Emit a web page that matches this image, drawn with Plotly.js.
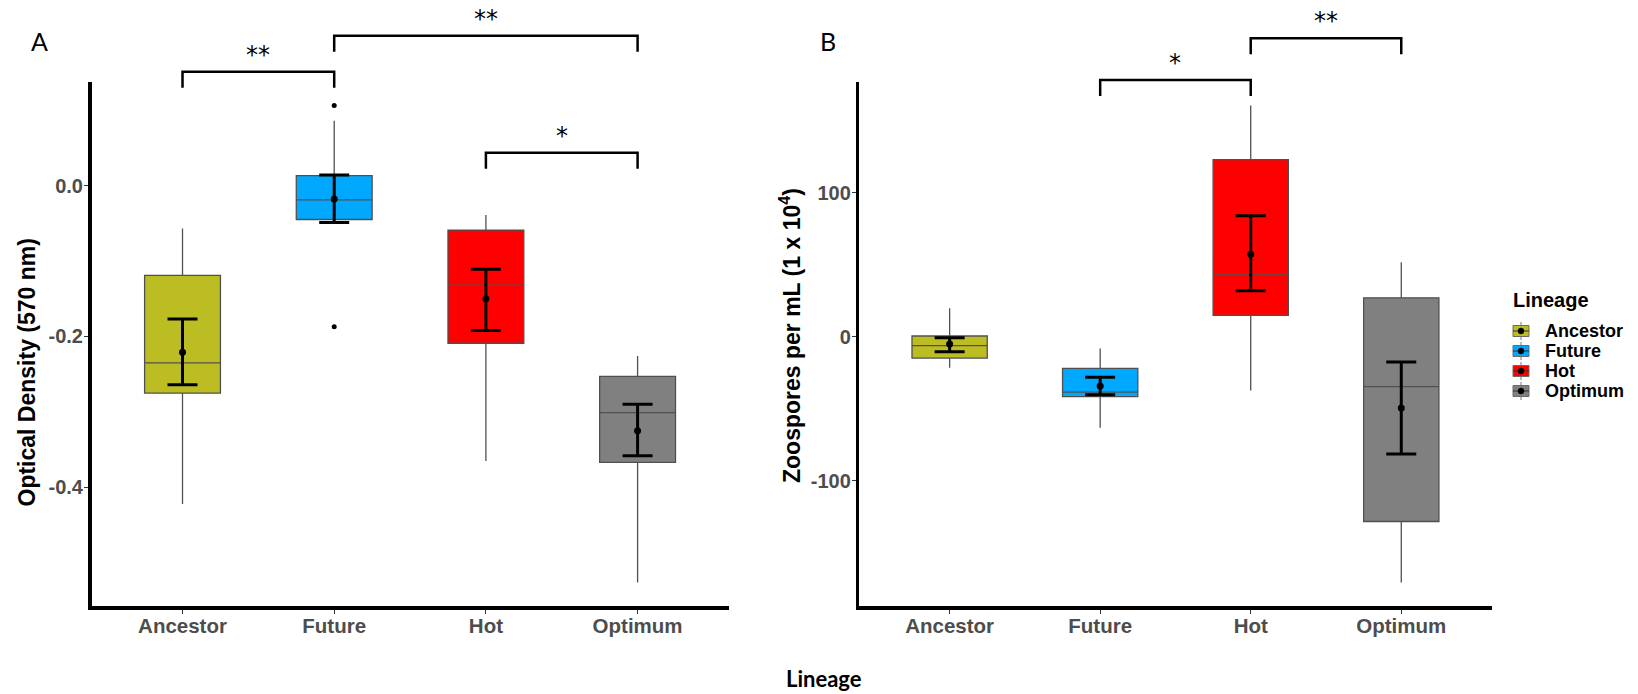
<!DOCTYPE html>
<html>
<head>
<meta charset="utf-8">
<script src="https://cdn.plot.ly/plotly-3.0.1.min.js"></script>
<style>html,body{margin:0;padding:0;background:#fff}</style>
</head>
<body>
<div id="chart" style="width:1638px;height:694px"></div>
<script>
// Lineages and their fill colours
const lineages = ['Ancestor', 'Future', 'Hot', 'Optimum'];
const fillColors = ['#BCBD22', '#00A9FF', '#FF0000', '#808080'];

// Panel A: optical density (570 nm)
const odLowerFence = [-0.422, -0.050, -0.365, -0.526];
const odQ1         = [-0.275, -0.045, -0.209, -0.367];
const odMedian     = [-0.235, -0.019, -0.132, -0.301];
const odQ3         = [-0.119,  0.013, -0.059, -0.253];
const odUpperFence = [-0.057,  0.086, -0.039, -0.226];
const odMean       = [-0.221, -0.018, -0.150, -0.325];
const odErrLow     = [-0.264, -0.049, -0.192, -0.358];
const odErrHigh    = [-0.177,  0.014, -0.111, -0.290];
const odOutlierLineage = ['Future', 'Future'];
const odOutlierValue   = [0.106, -0.187];
const odTickVals = [-0.4, -0.2, 0.0];
const odTickText = ['-0.4', '-0.2', '0.0'];

// Panel B: zoospores per mL (1 x 10^4)
const zsLowerFence = [-21.5, -63.1, -37.4, -170.5];
const zsQ1         = [-14.8, -41.6,  14.8, -128.2];
const zsMedian     = [ -6.2, -38.5,  43.5,  -34.6];
const zsQ3         = [  0.5, -21.9, 122.9,   27.0];
const zsUpperFence = [ 19.7,  -8.1, 160.4,   51.6];
const zsMean       = [ -5.1, -34.2,  57.3,  -49.4];
const zsErrLow     = [-10.4, -40.2,  31.9,  -81.3];
const zsErrHigh    = [ -0.7, -28.2,  83.9,  -17.5];
const zsTickVals = [-100, 0, 100];
const zsTickText = ['-100', '0', '100'];

// Pairwise comparisons: [from, to, significance]
const odComparisons = [['Ancestor', 'Future', '**'], ['Future', 'Optimum', '**'], ['Hot', 'Optimum', '*']];
const zsComparisons = [['Future', 'Hot', '*'], ['Hot', 'Optimum', '**']];

// ---- layout geometry (pixels on a 1638 x 694 canvas) ----
const W = 1638, H = 694;
const px = v => v / W;          // horizontal pixel -> paper
const py = v => (H - v) / H;    // vertical pixel (from top) -> paper
const plotTop = 81.7, plotBottom = 606.3;
const domY = [py(plotBottom), py(plotTop)];
const domXA = [px(91.5), px(728.6)];
const domXB = [px(859.3), px(1491.6)];
const xRange = [-0.6, lineages.length - 0.4];

// bracket heights (px from top) and leg drop
const odBracketTop = [71.7, 35.7, 152.7];
const zsBracketTop = [80.0, 38.3];
const legDrop = 16;

function paddedRange(values) {
  const lo = Math.min(...values), hi = Math.max(...values);
  const pad = (hi - lo) * 0.05;
  return [lo - pad, hi + pad];
}
const rangeA = paddedRange([...odLowerFence, ...odUpperFence, ...odOutlierValue]);
const rangeB = paddedRange([...zsLowerFence, ...zsUpperFence]);

const boxLine = '#505050';
const sans = 'Liberation Sans, Arial, sans-serif';
const yTickFont = {family: sans, size: 20, color: '#4D4D4D', weight: 'bold'};
const xTickFont = {family: sans, size: 20.5, color: '#4D4D4D', weight: 'bold'};

function boxTraces(xa, ya, lower, q1, med, q3, upper) {
  return lineages.map((name, i) => ({
    type: 'box', name: name, showlegend: false,
    x: [name], q1: [q1[i]], median: [med[i]], q3: [q3[i]],
    lowerfence: [lower[i]], upperfence: [upper[i]],
    boxpoints: false, width: 0.5, whiskerwidth: 0,
    fillcolor: fillColors[i], line: {color: boxLine, width: 1.3},
    xaxis: xa, yaxis: ya, hoverinfo: 'skip'
  }));
}

function meanTrace(xa, ya, mean, lo, hi) {
  return {
    type: 'scatter', mode: 'markers', showlegend: false, hoverinfo: 'skip',
    x: lineages, y: mean, xaxis: xa, yaxis: ya,
    marker: {color: '#000', size: 7},
    error_y: {
      type: 'data', symmetric: false,
      array: mean.map((m, i) => hi[i] - m),
      arrayminus: mean.map((m, i) => m - lo[i]),
      color: '#000', thickness: 3, width: 15
    }
  };
}

const traces = [
  ...boxTraces('x', 'y', odLowerFence, odQ1, odMedian, odQ3, odUpperFence),
  ...boxTraces('x2', 'y2', zsLowerFence, zsQ1, zsMedian, zsQ3, zsUpperFence),
  {
    type: 'scatter', mode: 'markers', showlegend: false, hoverinfo: 'skip',
    x: odOutlierLineage, y: odOutlierValue, xaxis: 'x', yaxis: 'y',
    marker: {color: '#000', size: 5}
  },
  meanTrace('x', 'y', odMean, odErrLow, odErrHigh),
  meanTrace('x2', 'y2', zsMean, zsErrLow, zsErrHigh)
];

const shapes = [];
const annotations = [];

// significance brackets with their star labels
function addBrackets(xref, comps, tops) {
  comps.forEach((c, k) => {
    const i0 = lineages.indexOf(c[0]), i1 = lineages.indexOf(c[1]);
    const yTop = py(tops[k]), yLeg = py(tops[k] + legDrop);
    shapes.push({
      type: 'path', xref: xref, yref: 'paper',
      path: `M ${i0},${yLeg} L ${i0},${yTop} L ${i1},${yTop} L ${i1},${yLeg}`,
      line: {color: '#000', width: 2.5}
    });
    annotations.push({
      xref: xref, yref: 'paper', x: (i0 + i1) / 2, y: yTop,
      text: c[2], showarrow: false, yanchor: 'bottom', yshift: 1,
      font: {family: 'DejaVu Sans, sans-serif', size: 24, color: '#000'}
    });
  });
}
addBrackets('x', odComparisons, odBracketTop);
addBrackets('x2', zsComparisons, zsBracketTop);

// legend: title, keys (box + whisker + mean point) and labels
const legendKeyX = 1521, legendTextX = 1543, legendRowY = [331, 351, 371, 391];
annotations.push({
  xref: 'paper', yref: 'paper', x: px(1511), y: py(300), text: 'Lineage', showarrow: false,
  xanchor: 'left', yanchor: 'middle', font: {family: sans, size: 20, color: '#000', weight: 'bold'}
});
lineages.forEach((name, i) => {
  const cy = legendRowY[i];
  shapes.push(
    {type: 'line', xref: 'paper', yref: 'paper', x0: px(legendKeyX), x1: px(legendKeyX),
     y0: py(cy - 9), y1: py(cy + 9), line: {color: '#7a7a7a', width: 1}},
    {type: 'rect', xref: 'paper', yref: 'paper', x0: px(legendKeyX - 8), x1: px(legendKeyX + 8),
     y0: py(cy - 5.5), y1: py(cy + 5.5), fillcolor: fillColors[i], line: {color: '#6a6a6a', width: 1}},
    {type: 'line', xref: 'paper', yref: 'paper', x0: px(legendKeyX - 8), x1: px(legendKeyX + 8),
     y0: py(cy), y1: py(cy), line: {color: '#333', width: 1}},
    {type: 'circle', xref: 'paper', yref: 'paper', x0: px(legendKeyX - 3), x1: px(legendKeyX + 3),
     y0: py(cy - 3), y1: py(cy + 3), fillcolor: '#000', line: {color: '#000', width: 0.5}}
  );
  annotations.push({
    xref: 'paper', yref: 'paper', x: px(legendTextX), y: py(cy), text: name, showarrow: false,
    xanchor: 'left', yanchor: 'middle', font: {family: sans, size: 18, color: '#000', weight: 'bold'}
  });
});

// panel letters and axis titles
annotations.push(
  {xref: 'paper', yref: 'paper', x: px(29), y: py(41), text: 'A', showarrow: false,
   xanchor: 'left', yanchor: 'middle', font: {family: 'Lato, sans-serif', size: 25, color: '#000'}},
  {xref: 'paper', yref: 'paper', x: px(818), y: py(41), text: 'B', showarrow: false,
   xanchor: 'left', yanchor: 'middle', font: {family: 'Lato, sans-serif', size: 25, color: '#000'}},
  {xref: 'paper', yref: 'paper', x: px(26), y: py(372.5), text: 'Optical Density (570 nm)',
   textangle: -90, showarrow: false, xanchor: 'center', yanchor: 'middle',
   font: {family: sans, size: 23, color: '#000', weight: 'bold'}},
  {xref: 'paper', yref: 'paper', x: px(790), y: py(336), text: 'Zoospores per mL (1 x 10<sup>4</sup>)',
   textangle: -90, showarrow: false, xanchor: 'center', yanchor: 'middle',
   font: {family: sans, size: 23, color: '#000', weight: 'bold'}},
  {xref: 'paper', yref: 'paper', x: px(824), y: py(678), text: 'Lineage', showarrow: false,
   xanchor: 'center', yanchor: 'middle',
   font: {family: 'Lato, Open Sans, sans-serif', size: 22, color: '#000', weight: 'bold'}}
);

function xAxis(domain, anchor) {
  return {
    domain: domain, anchor: anchor, type: 'category', categoryorder: 'array', categoryarray: lineages,
    range: xRange, showline: true, linewidth: 3.5, linecolor: '#000',
    ticks: 'outside', ticklen: 4, tickwidth: 1, tickcolor: '#333', ticklabelstandoff: -5,
    showgrid: false, zeroline: false, tickfont: xTickFont, fixedrange: true
  };
}
function yAxis(domain, anchor, range, vals, text) {
  return {
    domain: domain, anchor: anchor, range: range, tickvals: vals, ticktext: text,
    showline: true, linewidth: 3.5, linecolor: '#000',
    ticks: 'outside', ticklen: 4, tickwidth: 1, tickcolor: '#333', ticklabelstandoff: -3,
    showgrid: false, zeroline: false, tickfont: yTickFont, fixedrange: true
  };
}

const layout = {
  width: W, height: H,
  margin: {l: 0, r: 0, t: 0, b: 0},
  paper_bgcolor: '#fff', plot_bgcolor: '#fff',
  boxmode: 'overlay',
  showlegend: false,
  xaxis: xAxis(domXA, 'y'),
  yaxis: yAxis(domY, 'x', rangeA, odTickVals, odTickText),
  xaxis2: xAxis(domXB, 'y2'),
  yaxis2: yAxis(domY, 'x2', rangeB, zsTickVals, zsTickText),
  shapes: shapes,
  annotations: annotations
};

Plotly.newPlot('chart', traces, layout, {displayModeBar: false, staticPlot: true});
</script>
</body>
</html>
